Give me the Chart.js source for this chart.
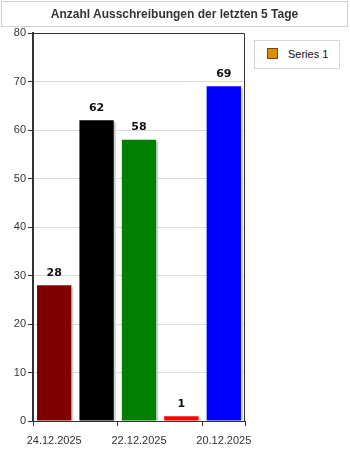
<!DOCTYPE html>
<html>
<head>
<meta charset="utf-8">
<script src="https://cdn.jsdelivr.net/npm/chart.js@4.4.0/dist/chart.umd.min.js"></script>
<style>
  html, body { margin: 0; padding: 0; background: #fff; }
  #wrap { position: relative; width: 350px; height: 450px; overflow: hidden; }
  #chart { position: absolute; left: 0; top: 0; }
  .title {
    position: absolute; left: 1px; top: 1px; width: 345px; height: 19px;
    padding-top: 5px;
    border: 1px solid #cfcfcf; text-align: center; line-height: 16px;
    font: bold 12px "Liberation Sans", Arial, sans-serif; color: #333;
  }
  .legend {
    position: absolute; left: 254px; top: 40px; width: 84px; height: 27px;
    border: 1px solid #d6d6d6; background: #fff;
    font: 11px "Liberation Sans", Arial, sans-serif; color: #111;
  }
  .legend .sw {
    position: absolute; left: 12px; top: 7px; width: 9px; height: 9px;
    background: #dd8c08; border: 1px solid #6b4a10;
  }
  .legend .lbl { position: absolute; left: 33px; top: 7px; }
</style>
</head>
<body>
<div id="wrap">
  <canvas id="chart" width="350" height="450"></canvas>
  <div class="title">Anzahl Ausschreibungen der letzten 5 Tage</div>
  <div class="legend"><span class="sw"></span><span class="lbl">Series 1</span></div>
</div>

<script>
  // Daten
  const days = ["24.12.2025", "23.12.2025", "22.12.2025", "21.12.2025", "20.12.2025"];
  const series1 = [28, 62, 58, 1, 69];
  const barColors = ["#800000", "#000000", "#008000", "#ff0000", "#0000ff"];
  const yTicks = [0, 10, 20, 30, 40, 50, 60, 70, 80];

  // Rahmen um den Plotbereich
  const frame = {
    id: "frame",
    afterDraw(chart) {
      const a = chart.chartArea, c = chart.ctx;
      c.save();
      c.strokeStyle = "#333";
      c.lineWidth = 1;
      c.beginPath();
      c.moveTo(a.left, a.top + 0.5);
      c.lineTo(a.right - 0.5, a.top + 0.5);
      c.lineTo(a.right - 0.5, a.bottom);
      c.stroke();
      c.restore();
    }
  };

  // Werte über den Balken
  const valueLabels = {
    id: "valueLabels",
    afterDatasetsDraw(chart) {
      const c = chart.ctx;
      const meta = chart.getDatasetMeta(0);
      c.save();
      c.font = 'bold 11px "DejaVu Sans", sans-serif';
      c.fillStyle = "#111";
      c.textAlign = "center";
      c.textBaseline = "bottom";
      meta.data.forEach((bar, i) => {
        c.fillText(series1[i], bar.x, bar.y - 7);
      });
      c.restore();
    }
  };

  // Schatten rechts an den Balken
  const barShadow = {
    id: "barShadow",
    beforeDatasetsDraw(chart) {
      const c = chart.ctx;
      const meta = chart.getDatasetMeta(0);
      c.save();
      c.fillStyle = "#cfcfcf";
      meta.data.forEach((bar) => {
        const w = bar.width;
        c.fillRect(bar.x + w / 2, bar.y + 2, 2, bar.base - bar.y - 2);
      });
      c.restore();
    }
  };

  const ctx = document.getElementById("chart").getContext("2d");
  new Chart(ctx, {
    type: "bar",
    data: {
      labels: days,
      datasets: [{
        label: "Series 1",
        data: series1,
        backgroundColor: barColors,
        borderWidth: 0,
        categoryPercentage: 1,
        barPercentage: 0.81
      }]
    },
    options: {
      responsive: false,
      animation: false,
      layout: { padding: { top: 33, right: 105, left: 0, bottom: 0 } },
      plugins: {
        legend: { display: false },
        tooltip: { enabled: false }
      },
      scales: {
        x: {
          afterFit(scale) { scale.height = 29; },
          grid: {
            offset: true,
            drawOnChartArea: false,
            tickLength: 5,
            tickColor: (ctx) => ([1, 3].includes(ctx.index) ? "rgba(0,0,0,0)" : "#333")
          },
          border: { color: "#333", width: 1 },
          ticks: {
            autoSkip: false,
            maxRotation: 0,
            padding: 8,
            color: "#333",
            font: { family: "Liberation Sans", size: 11 },
            callback: (v, i) => (i % 2 === 0 ? days[i] : "")
          }
        },
        y: {
          min: yTicks[0],
          max: yTicks[yTicks.length - 1],
          afterFit(scale) { scale.width = 33; },
          afterBuildTicks(scale) { scale.ticks = yTicks.map((v) => ({ value: v })); },
          grid: { color: "#d9d9d9", tickColor: "#333", tickLength: 5 },
          border: { color: "#333", width: 2 },
          ticks: {
            padding: 2,
            color: "#333",
            font: { family: "Liberation Sans", size: 11 }
          }
        }
      }
    },
    plugins: [barShadow, frame, valueLabels]
  });
</script>
</body>
</html>
